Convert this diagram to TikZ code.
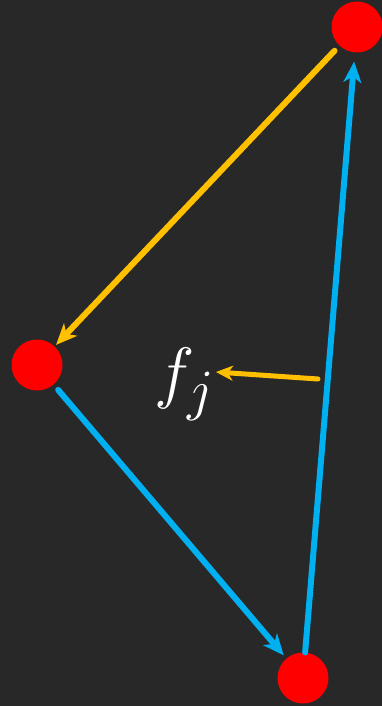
\documentclass[tikz,border=0pt]{standalone}
\usepackage{amsmath}
\usepackage{tikz}
\usetikzlibrary{positioning, arrows.meta, calc}
\definecolor{board}{RGB}{40,40,41}
\definecolor{dotc}{RGB}{255,0,0}
\definecolor{skyc}{RGB}{0,176,240}
\definecolor{goldc}{RGB}{255,192,0}

\begin{document}
\begin{tikzpicture}[x=1pt, y=-1pt,
  dot/.style={circle, fill=dotc, minimum size=51pt, inner sep=0pt},
  lnk/.style={line width=6pt, line cap=round, -{Stealth[length=21pt, width=18pt, inset=6pt]}},
  lab/.style={text=white, inner sep=0pt, font=\Huge, scale=2.75}]
\fill[board] (0,0) rectangle (382,706);
\useasboundingbox (0,0) rectangle (382,706);
\node[dot] (t) at (357,27) {};
\node[dot] (l) at (37,365) {};
\node[dot] (b) at (303,678) {};
\draw[lnk, goldc, shorten <=7pt, shorten >=2pt] (t) -- (l);
\draw[lnk, skyc, shorten >=9pt] (b) -- (t);
\draw[lnk, skyc, shorten <=7pt, shorten >=4pt] (l) -- (b);
\coordinate (m) at (318,379);
\node[lab] (fj) at (185,384) {$f_j$};
\draw[lnk, goldc, line width=5pt, -{Stealth[length=17pt, width=15pt, inset=5pt]}] (m) -- ($(fj.east)+(0,-12)$);
\end{tikzpicture}
\end{document}
